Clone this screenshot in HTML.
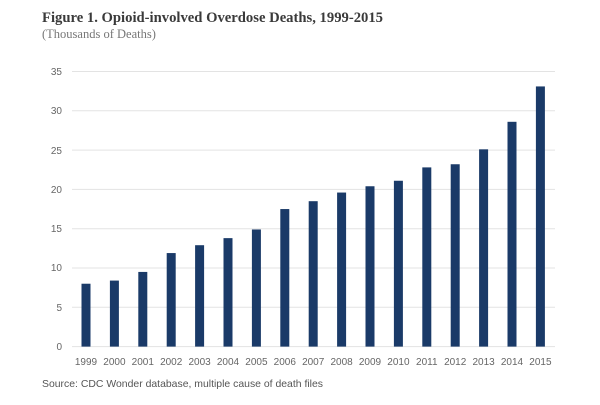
<!DOCTYPE html>
<html><head><meta charset="utf-8"><style>
body{margin:0;background:#fff;width:600px;height:400px;overflow:hidden}
</style></head><body>
<svg width="600" height="400" xmlns="http://www.w3.org/2000/svg">
<text x="42" y="22" font-family="Liberation Serif, serif" font-weight="bold" font-size="14.8" fill="#3a3a3a" textLength="341" lengthAdjust="spacingAndGlyphs">Figure 1. Opioid-involved Overdose Deaths, 1999-2015</text>
<text x="42" y="38" font-family="Liberation Serif, serif" font-size="12.5" fill="#777">(Thousands of Deaths)</text>
<g stroke="#e3e3e3" stroke-width="1">
<line x1="72" x2="555" y1="71.5" y2="71.5"/>
<line x1="72" x2="555" y1="110.8" y2="110.8"/>
<line x1="72" x2="555" y1="150.1" y2="150.1"/>
<line x1="72" x2="555" y1="189.4" y2="189.4"/>
<line x1="72" x2="555" y1="228.7" y2="228.7"/>
<line x1="72" x2="555" y1="268" y2="268"/>
<line x1="72" x2="555" y1="307.3" y2="307.3"/>
<line x1="72" x2="555" y1="346.6" y2="346.6"/>
</g>
<g font-family="Liberation Sans, sans-serif" font-size="10" fill="#666" text-anchor="end">
<text x="62" y="75">35</text><text x="62" y="114">30</text><text x="62" y="154">25</text><text x="62" y="193">20</text><text x="62" y="232">15</text><text x="62" y="271">10</text><text x="62" y="311">5</text><text x="62" y="350">0</text>
</g>
<g fill="#1a3a68" id="bars"></g>
<g font-family="Liberation Sans, sans-serif" font-size="10" fill="#666" text-anchor="middle" id="lbls"></g>
<text x="42" y="387" font-family="Liberation Sans, sans-serif" font-size="10.5" fill="#555" textLength="281" lengthAdjust="spacingAndGlyphs">Source: CDC Wonder database, multiple cause of death files</text>
</svg>
<script>
var v=[8.0,8.4,9.5,11.9,12.9,13.8,14.9,17.5,18.5,19.6,20.4,21.1,22.8,23.2,25.1,28.6,33.1];
var b=document.getElementById('bars'),l=document.getElementById('lbls'),ns='http://www.w3.org/2000/svg';
v.forEach(function(d,i){var cx=86+i*28.4,h=d*7.86;
var r=document.createElementNS(ns,'rect');r.setAttribute('x',cx-4.5);r.setAttribute('width',9);r.setAttribute('y',346.6-h);r.setAttribute('height',h);b.appendChild(r);
var t=document.createElementNS(ns,'text');t.setAttribute('x',cx);t.setAttribute('y',365);t.textContent=1999+i;l.appendChild(t);});
</script>
</body></html>
